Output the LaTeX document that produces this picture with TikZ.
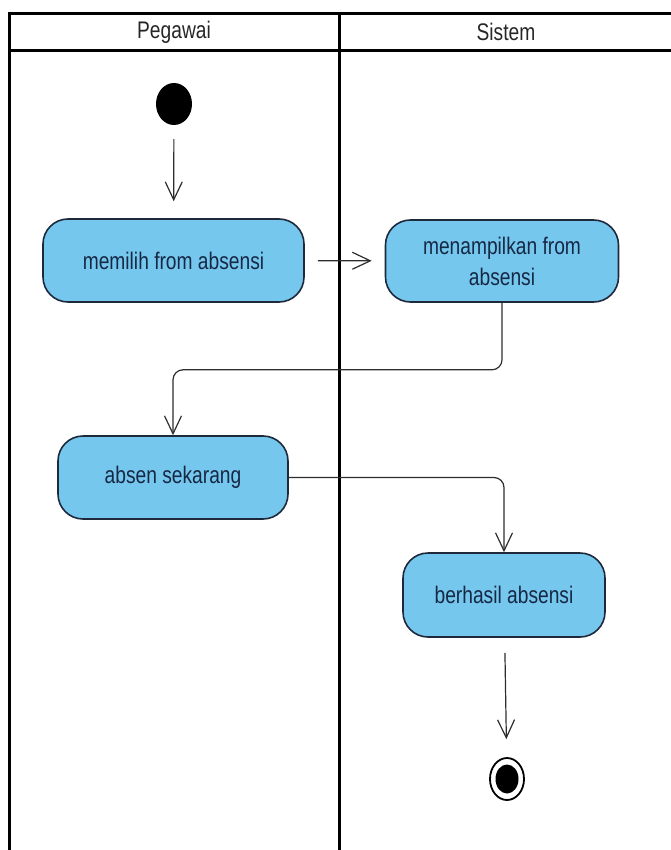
\documentclass[tikz,border=0pt]{standalone}
\usepackage{fontspec}
\setmainfont{Liberation Sans}[FakeStretch=0.8]
\usetikzlibrary{arrows.meta,shapes.geometric}

\definecolor{actfill}{RGB}{117,199,238}
\definecolor{actline}{RGB}{30,42,60}
\definecolor{acttext}{RGB}{22,40,68}
\definecolor{flowline}{RGB}{45,45,45}

\begin{document}
\begin{tikzpicture}[x=1pt,y=-1pt,
  act/.style={rectangle, rounded corners=25pt, draw=actline, line width=1.6pt,
    fill=actfill, text=acttext, font=\fontsize{24}{31}\selectfont,
    align=center, inner sep=0pt},
  flow/.style={draw=flowline, line width=1.2pt,
    -{Straight Barb[length=18pt,width=17pt,line width=1.2pt]}},
  lane/.style={line width=3pt, draw=black},
  lanetitle/.style={font=\fontsize{24}{28}\selectfont, text=black!85}]

\useasboundingbox (0,0) rectangle (670,850);

% swimlane frame
\draw[lane] (9,850) -- (9,14) -- (672,14);
\draw[lane] (9,51) -- (672,51);
\draw[lane] (339,14) -- (339,850);
\node[lanetitle] (lanePeg) at (174,32) {Pegawai};
\node[lanetitle] (laneSis) at (506,32) {Sistem};

% initial and final states
\node[ellipse, fill=black, minimum width=36pt, minimum height=42pt, inner sep=0pt] (start) at (174,104) {};
\node[ellipse, draw=black, line width=1.8pt, fill=white, minimum width=34pt, minimum height=42pt, inner sep=0pt] (end) at (507,779) {};
\node[ellipse, fill=black, minimum width=23pt, minimum height=29pt, inner sep=0pt] (endcore) at (507,779) {};

% activities
\node[act, minimum width=261pt, minimum height=83pt] (a1) at (173.5,260.5) {memilih from absensi};
\node[act, minimum width=233pt, minimum height=82pt] (a2) at (502,261) {menampilkan from\\absensi};
\node[act, minimum width=230pt, minimum height=83pt] (a3) at (173,477.5) {absen sekarang};
\node[act, minimum width=202pt, minimum height=84pt] (a4) at (504,595) {berhasil absensi};

% control flows
\draw[flow, shorten <=14pt, shorten >=17pt] (start) -- (a1);
\draw[flow, shorten <=13pt, shorten >=13pt] (a1) -- (a2);
\draw[flow, rounded corners=10pt] (a2.south) -- ++(0,67) -| (a3.north);
\draw[flow, rounded corners=10pt] (a3.east) -| (a4.north);
\draw[flow, shorten <=15pt, shorten >=18pt] (a4) -- (end);
\end{tikzpicture}
\end{document}
